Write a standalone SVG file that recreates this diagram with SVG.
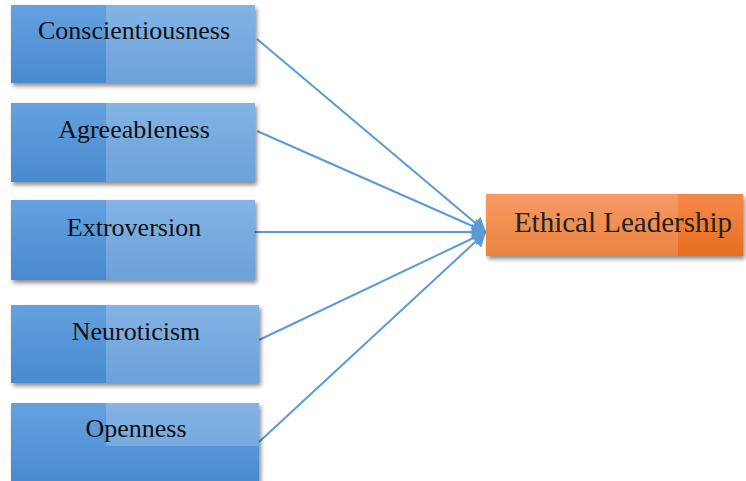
<svg xmlns="http://www.w3.org/2000/svg" width="746" height="481" viewBox="0 0 746 481">
<defs>
<linearGradient id="gBlue" x1="0" y1="0" x2="0" y2="1">
<stop offset="0" stop-color="#65a1df"/>
<stop offset="1" stop-color="#488ad0"/>
</linearGradient>
<linearGradient id="gOrange" x1="0" y1="0" x2="0" y2="1">
<stop offset="0" stop-color="#f5894a"/>
<stop offset="1" stop-color="#e86e1f"/>
</linearGradient>
<filter id="sh" x="-10%" y="-20%" width="125%" height="150%">
<feDropShadow dx="2" dy="3" stdDeviation="2" flood-color="#000" flood-opacity="0.45"/>
</filter>
<marker id="arr" markerUnits="userSpaceOnUse" markerWidth="16" markerHeight="18" refX="15" refY="9" orient="auto">
<path d="M1,1 L15,9 L1,17 Z" fill="#5b9bd5"/>
</marker>
</defs>
<style>
.box{fill:url(#gBlue);filter:url(#sh);}
.gloss{fill:#ffffff;fill-opacity:0.2;}
.obox{fill:url(#gOrange);filter:url(#sh);}
.lbl{font-family:"Liberation Serif","Times New Roman",serif;font-size:26px;fill:#111111;text-anchor:middle;}
.olbl{font-family:"Liberation Serif","Times New Roman",serif;font-size:29px;fill:#222222;text-anchor:middle;}
.edge{stroke:#5b9bd5;stroke-width:2;fill:none;marker-end:url(#arr);}
</style>
<rect width="746" height="481" fill="#ffffff"/>
<g id="edges">
<line class="edge" x1="257" y1="39" x2="486" y2="232"/>
<line class="edge" x1="257" y1="131" x2="486" y2="232"/>
<line class="edge" x1="255" y1="232" x2="486" y2="232"/>
<line class="edge" x1="259" y1="340" x2="486" y2="232"/>
<line class="edge" x1="259" y1="442" x2="486" y2="232"/>
</g>
<g id="n1">
<rect class="box" x="11" y="5" width="244" height="78"/>
<rect class="gloss" x="106" y="5" width="149" height="78"/>
<text class="lbl" x="134" y="39">Conscientiousness</text>
</g>
<g id="n2">
<rect class="box" x="11" y="103" width="244" height="79"/>
<rect class="gloss" x="106" y="103" width="149" height="79"/>
<text class="lbl" x="134" y="138">Agreeableness</text>
</g>
<g id="n3">
<rect class="box" x="11" y="200" width="244" height="80"/>
<rect class="gloss" x="106" y="200" width="149" height="80"/>
<text class="lbl" x="134" y="236">Extroversion</text>
</g>
<g id="n4">
<rect class="box" x="11" y="305" width="248" height="78"/>
<rect class="gloss" x="106" y="305" width="153" height="78"/>
<text class="lbl" x="136" y="340">Neuroticism</text>
</g>
<g id="n5">
<rect class="box" x="11" y="403" width="248" height="82"/>
<rect class="gloss" x="106" y="403" width="153" height="43"/>
<text class="lbl" x="136" y="437">Openness</text>
</g>
<g id="n6">
<rect class="obox" x="486" y="194" width="257" height="62"/>
<rect x="486" y="194" width="192" height="62" fill="#ffffff" fill-opacity="0.15"/>
<text class="olbl" x="623" y="232">Ethical Leadership</text>
</g>
</svg>
